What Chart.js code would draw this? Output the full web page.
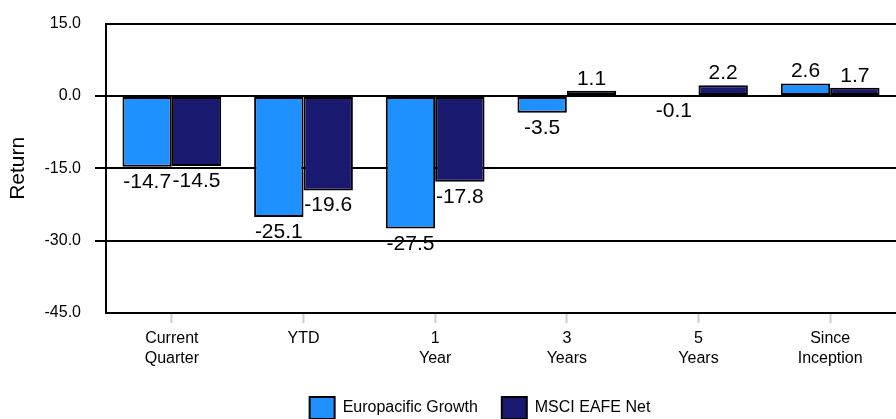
<!DOCTYPE html>
<html>
<head>
<meta charset="utf-8">
<script src="https://cdn.jsdelivr.net/npm/chart.js@4.4.1/dist/chart.umd.min.js"></script>
<style>
  html, body { margin: 0; padding: 0; background: #fff; }
  #wrap { width: 896px; height: 419px; }
</style>
</head>
<body>
<div id="wrap"><canvas id="chart-bar"></canvas></div>
<script>
var categories = [["Current", "Quarter"], "YTD", ["1", "Year"], ["3", "Years"], ["5", "Years"], ["Since", "Inception"]];
var europacific = [-14.7, -25.1, -27.5, -3.5, -0.1, 2.6];
var msciEafe = [-14.5, -19.6, -17.8, 1.1, 2.2, 1.7];
var yTicks = [15, 0, -15, -30, -45];

Chart.defaults.font.family = "'Liberation Sans', Arial, sans-serif";
Chart.defaults.color = "#000";

// value labels above positive bars, below negative ones
var valueLabels = {
  id: "valueLabels",
  afterDatasetsDraw: function(chart) {
    var ctx = chart.ctx;
    ctx.save();
    ctx.font = "21px 'Liberation Sans', Arial, sans-serif";
    ctx.fillStyle = "#000";
    ctx.textAlign = "center";
    ctx.textBaseline = "alphabetic";
    chart.data.datasets.forEach(function(ds, i) {
      chart.getDatasetMeta(i).data.forEach(function(bar, j) {
        var v = ds.data[j];
        var y = v >= 0 ? bar.y - 6 : bar.y + 21;
        ctx.fillText(v.toFixed(1), bar.x, y);
      });
    });
    ctx.restore();
  }
};

// nudge the legend a little to the right, like the original
var legendShift = {
  id: "legendShift",
  afterLayout: function(chart) {
    chart.legend.left += 28;
    chart.legend.right += 28;
  }
};

var ctx = document.getElementById("chart-bar").getContext("2d");

new Chart(ctx, {
  type: "bar",
  data: {
    labels: categories,
    datasets: [{
      label: "Europacific Growth",
      data: europacific,
      backgroundColor: "#1E90FF",
      borderColor: "#000",
      borderWidth: 2,
      borderSkipped: false
    }, {
      label: "MSCI EAFE Net",
      data: msciEafe,
      backgroundColor: "#191970",
      borderColor: "#000",
      borderWidth: 2,
      borderSkipped: false
    }]
  },
  options: {
    responsive: true,
    maintainAspectRatio: false,
    animation: false,
    categoryPercentage: 0.75,
    barPercentage: 1.0,
    layout: { padding: { top: 17, right: -8, bottom: -10, left: 0 } },
    plugins: {
      legend: {
        position: "bottom",
        labels: {
          boxWidth: 25,
          boxHeight: 22,
          padding: 24,
          color: "#000",
          font: { size: 16 }
        }
      },
      tooltip: { enabled: false }
    },
    scales: {
      y: {
        min: -45,
        max: 15,
        afterFit: function(scale) { scale.width = 106; },
        afterBuildTicks: function(scale) {
          scale.ticks = yTicks.map(function(v) { return { value: v }; });
        },
        grid: {
          color: "#000",
          lineWidth: 2,
          drawTicks: true,
          tickLength: 11,
          tickColor: function(c) {
            return (c.tick && (c.tick.value === 15 || c.tick.value === -45)) ? "rgba(0,0,0,0)" : "#000";
          }
        },
        border: { display: true, color: "#000", width: 2 },
        ticks: {
          color: "#000",
          padding: 14,
          font: { size: 16 },
          callback: function(v) { return Number(v).toFixed(1); }
        },
        title: {
          display: true,
          text: "Return",
          color: "#000",
          font: { size: 21 },
          padding: { top: 6, bottom: 0 }
        }
      },
      x: {
        afterFit: function(scale) { scale.height = 60; },
        grid: {
          display: true,
          offset: false,
          drawOnChartArea: false,
          drawTicks: true,
          tickLength: 10,
          tickWidth: 2,
          tickColor: "#cccccc"
        },
        border: { display: true, color: "#000", width: 2 },
        ticks: {
          color: "#000",
          padding: 6,
          maxRotation: 0,
          autoSkip: false,
          font: { size: 16, lineHeight: 1.25 }
        }
      }
    }
  },
  plugins: [valueLabels, legendShift]
});
</script>
</body>
</html>
